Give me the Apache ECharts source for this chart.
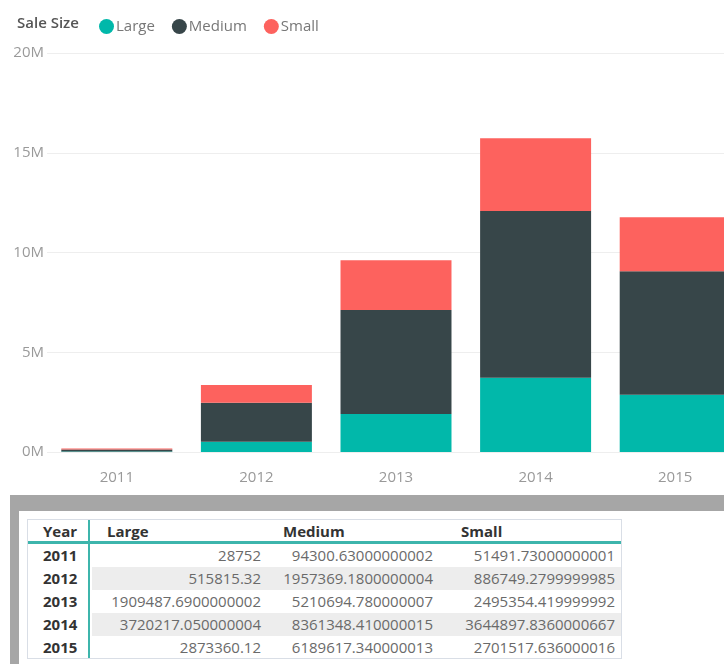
<!DOCTYPE html>
<html>
<head>
<meta charset="utf-8">
<script src="https://cdn.jsdelivr.net/npm/echarts@6/dist/echarts.min.js"></script>
<style>
  html, body { margin: 0; padding: 0; background: #fff; }
  body { width: 724px; height: 664px; position: relative; overflow: hidden; font-family: "Open Sans", "Noto Sans", sans-serif; }
  #chart { position: absolute; left: 0; top: 0; width: 770px; height: 495px; }
  #frame { position: absolute; left: 10px; top: 495px; width: 714px; height: 169px; background: #a6a6a6; }
  #inner { position: absolute; left: 19px; top: 511px; width: 705px; height: 153px; background: #fff; }
  #table { position: absolute; left: 27px; top: 519px; width: 595px; height: 140px; border: 1px solid #d9dee6; box-sizing: border-box; }
  .cell { position: absolute; font-size: 15px; line-height: 23px; white-space: nowrap; }
  .hdr { font-weight: 700; color: #333; }
  .yr { font-weight: 700; color: #333; }
  .val { color: #6a6a6a; }
  .shade { position: absolute; background: #ededed; }
  .teal { position: absolute; background: #3db5ac; }
</style>
</head>
<body>
<div id="chart"></div>
<div id="frame"></div>
<div id="inner"></div>
<div id="table"></div>
<script>
const years = ['2011', '2012', '2013', '2014', '2015'];
const seriesNames = ['Large', 'Medium', 'Small'];
const largeText = ['28752', '515815.32', '1909487.6900000002', '3720217.050000004', '2873360.12'];
const mediumText = ['94300.63000000002', '1957369.1800000004', '5210694.780000007', '8361348.410000015', '6189617.340000013'];
const smallText = ['51491.73000000001', '886749.2799999985', '2495354.419999992', '3644897.8360000667', '2701517.636000016'];
const large = largeText.map(Number);
const medium = mediumText.map(Number);
const small = smallText.map(Number);
const yTicks = [0, 5e6, 10e6, 15e6, 20e6];

const colors = ['#01B8AA', '#374649', '#FD625E'];
const font = '"Open Sans", "Noto Sans", sans-serif';

const chart = echarts.init(document.getElementById('chart'));
chart.setOption({
  animation: false,
  color: colors,
  title: {
    text: 'Sale Size', left: 12, top: 11,
    textStyle: { fontSize: 15, fontWeight: 600, color: '#555', fontFamily: font }
  },
  legend: {
    left: 94, top: 14, icon: 'circle', itemWidth: 15, itemHeight: 15, itemGap: 17,
    data: seriesNames,
    textStyle: { fontSize: 15, color: '#777', fontFamily: font, padding: [0, 0, 0, -3] }
  },
  grid: { left: 47, top: 53, width: 698, height: 399, containLabel: false },
  xAxis: {
    type: 'category', data: years,
    axisLine: { show: false }, axisTick: { show: false },
    axisLabel: { color: '#999', fontSize: 15, fontFamily: font, margin: 18 }
  },
  yAxis: {
    type: 'value', min: yTicks[0], max: yTicks[yTicks.length - 1], interval: yTicks[1] - yTicks[0],
    axisLine: { show: false }, axisTick: { show: false },
    axisLabel: { color: '#9a9a9a', fontSize: 15, fontFamily: font, margin: 3, formatter: v => (v / 1e6) + 'M' },
    splitLine: { lineStyle: { color: '#eeeeee', width: 1 } }
  },
  series: [
    { name: 'Large', type: 'bar', stack: 'total', data: large, barCategoryGap: '20.5%' },
    { name: 'Medium', type: 'bar', stack: 'total', data: medium },
    { name: 'Small', type: 'bar', stack: 'total', data: small }
  ]
});

// Table
const table = document.getElementById('table');
function add(cls, text, style) {
  const d = document.createElement('div');
  d.className = cls;
  if (text !== null) d.textContent = text;
  Object.assign(d.style, style);
  table.appendChild(d);
  return d;
}
// table padding box: absolute x 28..621, y 520..
const headerH = 22, lineH = 3, rowH = 23;
const colHeaderLeft = [15, 79, 255, 433];
const colValueRight = [null, 621 - 261, 621 - 433, 621 - 615];
const cols = [largeText, mediumText, smallText];
years.forEach((y, i) => {
  const top = headerH + lineH + i * rowH - 1;
  if (i % 2 === 1) add('shade', null, { left: '64px', top: top + 'px', width: '529px', height: rowH + 'px' });
});
add('teal', null, { left: '0px', top: (headerH - 1) + 'px', width: '593px', height: lineH + 'px' });
add('teal', null, { left: '60px', top: '0px', width: '2px', height: '138px' });
add('cell hdr', 'Year', { left: colHeaderLeft[0] + 'px', top: '0px' });
seriesNames.forEach((n, j) => add('cell hdr', n, { left: colHeaderLeft[j + 1] + 'px', top: '0px' }));
years.forEach((y, i) => {
  const top = headerH + lineH + i * rowH - 1;
  add('cell yr', y, { left: colHeaderLeft[0] + 'px', top: top + 'px' });
  cols.forEach((c, j) => add('cell val', c[i], { right: colValueRight[j + 1] + 'px', top: top + 'px' }));
});
</script>
</body>
</html>
